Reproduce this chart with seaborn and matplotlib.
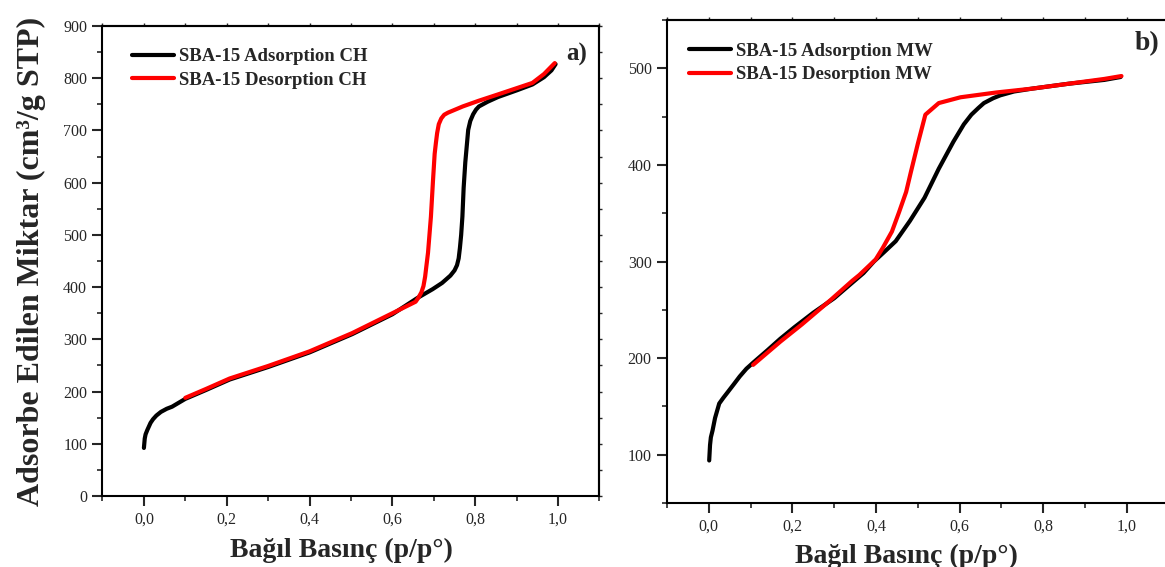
import numpy as np
import pandas as pd
import matplotlib
matplotlib.use("Agg")
import matplotlib.pyplot as plt
import seaborn as sns
from matplotlib.ticker import MultipleLocator, FuncFormatter
from matplotlib.font_manager import FontProperties

# ---------------- data ----------------
ads_ch_x = [0.0, 0.002, 0.004, 0.008, 0.012, 0.016, 0.022, 0.03, 0.041, 0.055, 0.068, 0.085,
            0.1, 0.15, 0.207, 0.3, 0.4, 0.503, 0.6, 0.66, 0.697, 0.72, 0.74, 0.75, 0.756,
            0.76, 0.763, 0.766, 0.769, 0.772, 0.776, 0.783, 0.788, 0.795, 0.802, 0.809,
            0.83, 0.855, 0.901, 0.938, 0.966, 0.984, 0.994]
ads_ch_y = [92, 110, 118, 126, 133, 140, 147, 154, 161, 167, 171, 179,
            186, 203, 223, 247, 275, 310, 348, 379, 396, 408, 422, 432, 442,
            455, 475, 500, 535, 590, 639, 701, 718, 731, 740, 746,
            755, 764, 777, 788, 802, 815, 827]

des_ch_x = [0.992, 0.966, 0.938, 0.855, 0.809, 0.77, 0.734, 0.725, 0.718, 0.712, 0.708,
            0.705, 0.702, 0.698, 0.693, 0.686, 0.682, 0.679, 0.675, 0.67, 0.663, 0.656,
            0.6, 0.503, 0.4, 0.3, 0.207, 0.15, 0.1]
des_ch_y = [829, 808, 791, 769, 757, 746, 734, 730, 723, 712, 695,
            676, 655, 604, 535, 466, 440, 420, 402, 390, 380, 372,
            350, 312, 277, 249, 225, 205, 188]

ads_mw_x = [0.001, 0.002, 0.003, 0.005, 0.009, 0.015, 0.025, 0.035, 0.044, 0.06, 0.074,
            0.09, 0.108, 0.14, 0.171, 0.205, 0.25, 0.3, 0.343, 0.37, 0.395, 0.42, 0.447,
            0.481, 0.516, 0.55, 0.585, 0.61, 0.628, 0.645, 0.658, 0.68, 0.697, 0.73,
            0.774, 0.86, 0.946, 0.985]
ads_mw_y = [94, 102, 110, 118, 125, 138, 153, 159, 164, 173, 181,
            189, 196, 208, 220, 232, 247, 262, 278, 288, 300, 310, 321,
            342, 366, 396, 424, 442, 452, 459, 464, 469, 472, 476,
            479, 484, 488, 491]

des_mw_x = [0.987, 0.946, 0.86, 0.774, 0.688, 0.602, 0.55, 0.518, 0.5, 0.483, 0.472,
            0.455, 0.438, 0.416, 0.399, 0.36, 0.343, 0.291, 0.223, 0.171, 0.106]
des_mw_y = [492, 489, 484, 479, 475, 470, 464, 452, 422, 392, 372,
            351, 331, 314, 302, 286, 280, 260, 235, 217, 193]

labels_ch = ["SBA-15 Adsorption CH", "SBA-15 Desorption CH"]
labels_mw = ["SBA-15 Adsorption MW", "SBA-15 Desorption MW"]
xlabel = "Bağıl Basınç (p/p°)"
ylabel = "Adsorbe Edilen Miktar (cm³/g STP)"

# ---------------- style ----------------
sns.set_style("ticks")
plt.rcParams["font.family"] = ["Liberation Serif", "DejaVu Serif"]
plt.rcParams["axes.linewidth"] = 1.5

fig = plt.figure(figsize=(11.65, 5.67), dpi=100)
ax1 = fig.add_axes([0.08798, 0.12522, 0.4266, 0.82892])
ax2 = fig.add_axes([0.5725, 0.11287, 0.4307, 0.85185])

comma = FuncFormatter(lambda v, p: f"{v:.1f}".replace(".", ","))
bold_leg = FontProperties(family="Liberation Serif", weight="bold", size=13.5)


def draw(ax, ax_x, ax_y, de_x, de_y, labels, ymax):
    dfa = pd.DataFrame({"p": ax_x, "v": ax_y})
    dfd = pd.DataFrame({"p": de_x, "v": de_y})
    sns.lineplot(data=dfa, x="p", y="v", sort=False, color="black", lw=3,
                 ax=ax, label=labels[0])
    sns.lineplot(data=dfd, x="p", y="v", sort=False, color="#ff0000", lw=3,
                 ax=ax, label=labels[1])
    ax.set_xlim(-0.1, 1.1)
    ax.xaxis.set_major_locator(MultipleLocator(0.2))
    ax.xaxis.set_minor_locator(MultipleLocator(0.1))
    ax.xaxis.set_major_formatter(comma)
    ax.yaxis.set_major_locator(MultipleLocator(100))
    ax.yaxis.set_minor_locator(MultipleLocator(50))
    ax.tick_params(which="major", length=7, width=1.5, direction="out",
                   labelsize=11.5, labelcolor="#262626", pad=4)
    ax.tick_params(which="minor", length=3.5, width=1.2, direction="out")
    for s in ax.spines.values():
        s.set_visible(True)
        s.set_color("black")
        s.set_linewidth(1.5)
    top = ax.secondary_xaxis("top")
    top.set_xticks(np.arange(-0.1, 1.11, 0.1))
    top.tick_params(length=2.5, width=1, labeltop=False, direction="out")
    if ymax is not None:
        right = ax.secondary_yaxis("right")
        right.set_yticks(np.arange(0, ymax + 1, 50))
        right.tick_params(length=2.5, width=1, labelright=False, direction="out")
    ax.set_xlabel(xlabel, fontsize=20, fontweight="bold")
    ax.set_ylabel("")


draw(ax1, ads_ch_x, ads_ch_y, des_ch_x, des_ch_y, labels_ch, 900)
draw(ax2, ads_mw_x, ads_mw_y, des_mw_x, des_mw_y, labels_mw, None)

ax1.set_ylim(0, 900)
ax2.set_ylim(50, 550)

ax1.set_ylabel(ylabel, fontsize=23, fontweight="bold")
ax1.yaxis.set_label_coords(-0.114, 0.5)
ax1.xaxis.set_label_coords(0.48, -0.09)
ax2.xaxis.set_label_coords(0.478, -0.085)

leg_kw = dict(loc="upper left", frameon=True, facecolor="white", edgecolor="none",
              framealpha=1, borderpad=0, borderaxespad=0, handlelength=2.25,
              handletextpad=0.27, labelspacing=0.34, prop=bold_leg)
ax1.legend(bbox_to_anchor=(0.0588, 0.953), **leg_kw)
ax2.legend(bbox_to_anchor=(0.0432, 0.953), **leg_kw)

ax1.text(0.955, 0.94, "a)", transform=ax1.transAxes, fontsize=18,
         fontweight="bold", ha="center", va="center")
ax2.text(0.957, 0.951, "b)", transform=ax2.transAxes, fontsize=20,
         fontweight="bold", ha="center", va="center")

fig.savefig("out.png", dpi=100)
